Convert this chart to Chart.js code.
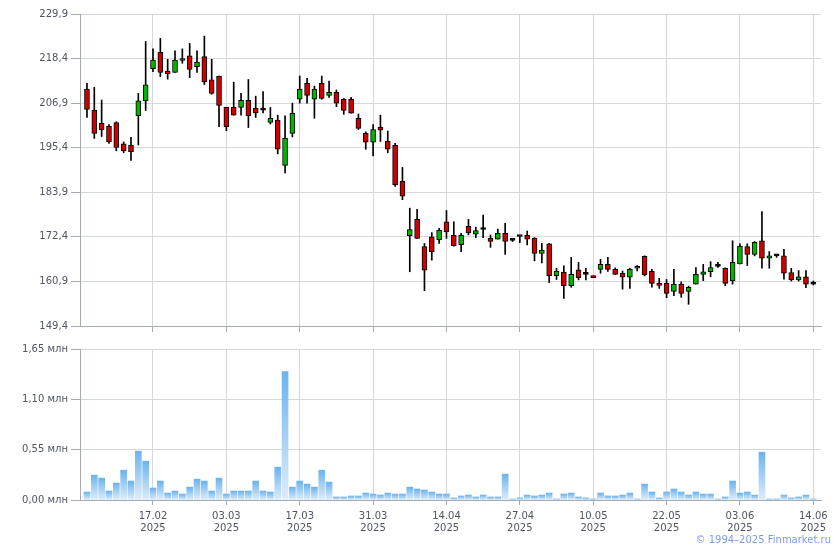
<!DOCTYPE html>
<html>
<head>
<meta charset="utf-8">
<script src="https://cdn.jsdelivr.net/npm/chart.js@4/dist/chart.umd.min.js"></script>
<style>
  body { margin: 0; background: #ffffff; }
  #wrap { position: relative; width: 840px; height: 550px; }
  #priceChart { position: absolute; left: 0; top: 0; }
  #volumeChart { position: absolute; left: 0; top: 340px; }
  #copyright {
    position: absolute; right: 9px; top: 534px;
    font: 10px "DejaVu Sans", sans-serif; color: #7d9de0; line-height: 12px;
  }
</style>
</head>
<body>
<div id="wrap">
  <canvas id="priceChart" width="840" height="340"></canvas>
  <canvas id="volumeChart" width="840" height="210"></canvas>
  <div id="copyright">© 1994–2025 Finmarket.ru</div>
</div>
<script>
// daily candles, oldest first
const opens = [
  210.5, 205.1, 201.7, 201.0, 201.9, 196.4, 196.1, 203.7, 207.5, 215.8,
  220.0, 215.2, 214.8, 217.9, 219.1, 216.3, 218.9, 212.9, 213.9, 205.8,
  205.8, 205.8, 207.6, 205.6, 205.1, 201.9, 202.5, 190.8, 199.1, 207.9,
  212.0, 207.9, 212.0, 208.9, 209.7, 207.9, 207.9, 203.0, 199.1, 196.8,
  200.7, 197.1, 196.0, 186.7, 172.7, 176.9, 169.9, 172.4, 171.6, 176.3,
  172.8, 170.4, 175.1, 173.1, 174.3, 172.0, 171.8, 173.3, 171.5, 172.5,
  172.8, 172.0, 168.1, 170.6, 162.4, 163.3, 159.8, 163.9, 162.7, 162.3,
  164.0, 165.3, 164.0, 163.0, 162.0, 164.3, 167.4, 163.5, 160.4, 160.4,
  158.3, 160.2, 158.3, 160.2, 162.7, 163.4, 164.8, 164.3, 161.0, 165.4,
  169.9, 167.9, 171.4, 166.9, 167.5, 167.5, 163.2, 161.3, 162.1, 160.2
];
const highs = [
  212.0, 211.0, 207.7, 201.4, 202.1, 196.9, 198.1, 209.4, 222.8, 220.9,
  223.6, 218.2, 220.4, 220.9, 222.3, 220.4, 224.2, 218.2, 213.9, 205.8,
  212.3, 209.4, 213.0, 208.7, 209.9, 205.8, 203.8, 203.6, 206.9, 213.9,
  213.3, 211.3, 213.9, 212.6, 210.3, 208.1, 208.4, 204.1, 199.5, 201.4,
  203.8, 199.7, 196.5, 190.3, 179.8, 179.5, 170.7, 173.5, 174.6, 179.2,
  176.3, 173.3, 176.9, 174.9, 178.0, 172.9, 174.4, 175.9, 172.0, 172.6,
  173.9, 172.2, 170.7, 170.7, 164.3, 164.9, 167.1, 165.8, 164.3, 162.3,
  166.6, 167.1, 164.4, 163.6, 164.3, 165.0, 167.5, 164.0, 161.7, 161.4,
  164.0, 160.8, 159.7, 164.5, 165.3, 166.0, 165.8, 164.4, 171.4, 170.6,
  170.6, 171.2, 178.9, 168.6, 167.9, 169.2, 164.3, 163.7, 163.7, 161.0
];
const lows = [
  203.2, 197.8, 198.3, 196.5, 194.6, 194.1, 192.1, 196.1, 205.0, 215.0,
  213.7, 213.1, 214.8, 217.2, 213.5, 214.8, 211.7, 209.2, 200.8, 199.8,
  203.8, 203.8, 200.6, 203.2, 204.4, 201.5, 193.8, 188.9, 198.2, 206.9,
  206.9, 203.0, 207.9, 208.4, 206.0, 204.0, 204.3, 200.1, 195.0, 193.3,
  197.0, 194.1, 185.4, 182.0, 163.4, 172.0, 158.5, 166.4, 170.7, 172.0,
  170.0, 168.6, 172.9, 172.2, 172.2, 169.7, 171.8, 167.9, 171.2, 170.9,
  170.3, 166.2, 165.7, 160.6, 161.4, 156.5, 159.4, 161.3, 161.3, 161.9,
  163.0, 163.5, 162.7, 158.9, 159.1, 163.6, 162.3, 159.4, 159.1, 156.7,
  157.2, 156.8, 155.0, 160.2, 161.1, 162.1, 164.5, 159.8, 160.2, 165.4,
  165.0, 167.5, 164.3, 164.3, 167.1, 161.5, 161.0, 161.0, 159.3, 160.0
];
const closes = [
  205.3, 199.1, 200.0, 196.9, 195.5, 194.6, 194.4, 207.5, 211.6, 218.0,
  214.8, 214.5, 218.0, 218.0, 215.6, 217.5, 212.4, 209.4, 206.3, 200.8,
  203.8, 207.6, 203.7, 204.4, 205.1, 203.0, 195.0, 197.8, 204.3, 210.5,
  208.9, 210.5, 208.1, 209.7, 206.9, 205.0, 204.3, 200.4, 196.8, 200.1,
  199.9, 195.0, 185.8, 182.9, 174.3, 172.0, 163.8, 168.6, 174.1, 173.7,
  170.1, 172.8, 173.5, 174.0, 174.3, 171.2, 173.3, 171.2, 171.5, 172.5,
  171.8, 168.1, 169.0, 162.4, 163.6, 159.8, 162.7, 161.9, 162.7, 161.9,
  165.3, 164.0, 162.7, 162.0, 164.0, 164.8, 162.6, 160.4, 159.9, 157.8,
  160.2, 157.8, 159.4, 162.7, 163.4, 164.5, 164.8, 160.4, 165.8, 170.0,
  167.9, 171.0, 166.9, 167.5, 167.5, 163.0, 161.3, 162.1, 160.2, 160.2
];
// volume, millions
const volumes = [
  0.087, 0.272, 0.239, 0.098, 0.185, 0.326, 0.207, 0.533, 0.424, 0.131,
  0.207, 0.076, 0.098, 0.065, 0.141, 0.228, 0.207, 0.098, 0.239, 0.065,
  0.098, 0.098, 0.098, 0.207, 0.098, 0.087, 0.359, 1.403, 0.141, 0.207,
  0.174, 0.141, 0.326, 0.196, 0.033, 0.033, 0.044, 0.044, 0.076, 0.065,
  0.054, 0.076, 0.065, 0.065, 0.141, 0.120, 0.109, 0.087, 0.065, 0.065,
  0.022, 0.044, 0.054, 0.033, 0.054, 0.033, 0.033, 0.283, 0.011, 0.022,
  0.054, 0.044, 0.054, 0.076, 0.011, 0.065, 0.076, 0.033, 0.022, 0.011,
  0.076, 0.044, 0.044, 0.054, 0.076, 0.011, 0.174, 0.087, 0.022, 0.087,
  0.120, 0.087, 0.054, 0.087, 0.065, 0.065, 0.011, 0.033, 0.207, 0.076,
  0.087, 0.054, 0.522, 0.011, 0.011, 0.054, 0.022, 0.033, 0.054, 0.011
];

const priceTicks = [149.4, 160.9, 172.4, 183.9, 195.4, 206.9, 218.4, 229.9];
const volumeTicks = [0, 0.55, 1.10, 1.65];
const dateTickIndex = [9, 19, 29, 39, 49, 59, 69, 79, 89, 99];
const dateTickLabels = ["17.02", "03.03", "17.03", "31.03", "14.04", "27.04", "10.05", "22.05", "03.06", "14.06"];
const year = "2025";

const colors = {
  up: "#00b400",
  down: "#cc0000",
  outline: "#000000",
  grid: "#d4d8dc",
  axis: "#a6abb3",
  text: "#4f5563",
  volTop: "#6cb3ee",
  volBottom: "#deedfb",
};

Chart.defaults.font.family = "'DejaVu Sans', sans-serif";
Chart.defaults.font.size = 10;
Chart.defaults.color = colors.text;

const commaFmt = (v, d) => v.toFixed(d).replace(".", ",");

const xScale = (showLabels, tickLength, height) => ({
  type: "linear",
  offset: false,
  min: -0.95,
  max: 100.05,
  afterBuildTicks: (scale) => {
    scale.ticks = dateTickIndex.map((value) => ({ value }));
  },
  afterFit: (scale) => {
    scale.height = height;
  },
  grid: {
    offset: false,
    color: colors.grid,
    tickColor: colors.axis,
    tickLength: tickLength,
  },
  border: { color: colors.axis },
  ticks: {
    display: showLabels,
    autoSkip: false,
    maxRotation: 0,
    padding: 5,
    font: { lineHeight: 1.25 },
    callback: (value, index) => [dateTickLabels[index], year],
  },
});

const yScale = (tickValues, min, max, format) => ({
  min: min,
  max: max,
  afterBuildTicks: (scale) => {
    scale.ticks = tickValues.map((value) => ({ value }));
  },
  afterFit: (scale) => {
    scale.width = 80;
  },
  grid: {
    color: colors.grid,
    tickColor: colors.axis,
    tickLength: 9,
  },
  border: { color: colors.axis },
  ticks: {
    padding: 3,
    callback: format,
  },
});

const wickData = highs.map((h, i) => ({ x: i, y: [lows[i], h] }));
const bodyData = opens.map((o, i) => ({ x: i, y: [o, closes[i]] }));
const bodyColors = opens.map((o, i) =>
  closes[i] > o ? colors.up : closes[i] < o ? colors.down : colors.outline,
);

new Chart(document.getElementById("priceChart"), {
  type: "bar",
  data: {
    datasets: [
      {
        label: "body",
        data: bodyData,
        backgroundColor: bodyColors,
        borderColor: colors.outline,
        borderWidth: 1,
        borderSkipped: false,
        barThickness: 5,
        minBarLength: 2,
        grouped: false,
        order: 0,
      },
      {
        label: "wick",
        data: wickData,
        backgroundColor: colors.outline,
        borderWidth: 0,
        barThickness: 1,
        grouped: false,
        order: 1,
      },
    ],
  },
  options: {
    responsive: false,
    animation: false,
    layout: { padding: { top: 14, right: 19, bottom: 0, left: 0 } },
    plugins: { legend: { display: false }, tooltip: { enabled: false } },
    scales: {
      x: xScale(false, 6, 14),
      y: yScale(priceTicks, 149.4, 229.9, (v) => commaFmt(v, 1)),
    },
  },
});

const volumeGradient = (context) => {
  const chart = context.chart;
  const y = chart.scales.y;
  if (!y || !context.parsed) {
    return colors.volTop;
  }
  const top = y.getPixelForValue(context.parsed.y);
  const bottom = y.getPixelForValue(0);
  if (!isFinite(top) || !isFinite(bottom) || bottom - top < 1) {
    return colors.volTop;
  }
  const g = chart.ctx.createLinearGradient(0, top, 0, bottom);
  g.addColorStop(0, colors.volTop);
  g.addColorStop(1, colors.volBottom);
  return g;
};

new Chart(document.getElementById("volumeChart"), {
  type: "bar",
  data: {
    datasets: [
      {
        label: "volume",
        data: volumes.map((v, i) => ({ x: i, y: v })),
        backgroundColor: volumeGradient,
        borderWidth: 0,
        barThickness: 6,
      },
    ],
  },
  options: {
    responsive: false,
    animation: false,
    layout: { padding: { top: 9, right: 19, bottom: 0, left: 0 } },
    plugins: { legend: { display: false }, tooltip: { enabled: false } },
    scales: {
      x: xScale(true, 5, 50),
      y: yScale(volumeTicks, 0, 1.65, (v) => commaFmt(v, 2) + " млн"),
    },
  },
});
</script>
</body>
</html>
